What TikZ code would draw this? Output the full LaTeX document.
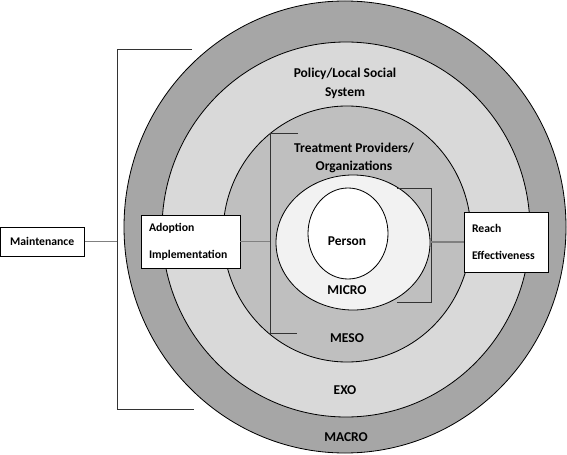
\documentclass[tikz,border=0pt]{standalone}
\usepackage{fontspec}
\setmainfont{Carlito}
\usepackage{tikz}

\definecolor{macrogray}{HTML}{A6A6A6}
\definecolor{exogray}{HTML}{D9D9D9}
\definecolor{mesogray}{HTML}{BFBFBF}
\definecolor{microgray}{HTML}{F2F2F2}

\begin{document}
\begin{tikzpicture}[x=0.03cm, y=0.03cm,
    every node/.style={font=\bfseries\fontsize{10}{15}\selectfont},
    ring/.style={draw=black, line width=0.7pt},
    ring label/.style={font=\bfseries\fontsize{11.5}{16}\selectfont, align=center},
    label box/.style={draw=black, fill=white, line width=0.8pt, align=left, inner xsep=0.24cm},
    bracket/.style={draw=black!80, line width=0.75pt},
    link/.style={draw=black!50, line width=1.6pt}]
  \useasboundingbox (0,0) rectangle (567,-455);
  \path[ring, fill=macrogray] (345,-227) ellipse [x radius=221, y radius=226];
  \path[ring, fill=exogray]   (346,-229.5) ellipse [x radius=184, y radius=187.5];
  \path[ring, fill=mesogray]  (347,-234) ellipse [x radius=124, y radius=128];
  \path[ring, fill=microgray] (353,-242.5) ellipse [x radius=77, y radius=67.5];
  \path[ring, fill=white]     (348,-233.5) ellipse [x radius=40, y radius=45.5];

  \node[ring label] (Policy)   at (345,-83)  {Policy/Local Social\\System};
  \node[ring label] (Provider) at (354,-158) {Treatment Providers/\\Organizations};
  \node[ring label] (Person) at (347,-241) {Person};
  \node[ring label] (Micro)  at (347,-290) {MICRO};
  \node[ring label] (Meso)   at (347,-338) {MESO};
  \node[ring label] (Exo)    at (345,-390) {EXO};
  \node[ring label] (Macro)  at (346,-437) {MACRO};

  \coordinate (OuterTL) at (117,-49);
  \coordinate (OuterBL) at (117,-409);
  \coordinate (MesoTL)  at (270,-133);
  \coordinate (MesoBL)  at (270,-333);
  \coordinate (MicroTR) at (431,-188);
  \coordinate (MicroBR) at (431,-302);
  \draw[bracket] (192,-49) -- (OuterTL) -- (OuterBL) -- (194,-409);
  \draw[bracket] (298,-133) -- (MesoTL) -- (MesoBL) -- (297,-333);
  \draw[bracket] (397,-188) -- (MicroTR) -- (MicroBR) -- (397,-302);

  \node[label box, minimum width=2.52cm, minimum height=0.87cm] (Maint) at (42.2,-241.5) {Maintenance};
  \node[label box, text width=2.49cm, minimum height=1.59cm] (Adopt) at (190.5,-241.5) {Adoption\\[8pt]Implementation};
  \node[label box, text width=2.04cm, minimum height=1.8cm] (Reach) at (506,-242) {Reach\\[8pt]Effectiveness};

  \draw[link] (Maint.east) -- (Maint.east -| OuterTL);
  \draw[link] (Adopt.east) -- (Adopt.east -| MesoTL);
  \draw[link] (Reach.west -| MicroTR) -- (Reach.west);
\end{tikzpicture}
\end{document}
